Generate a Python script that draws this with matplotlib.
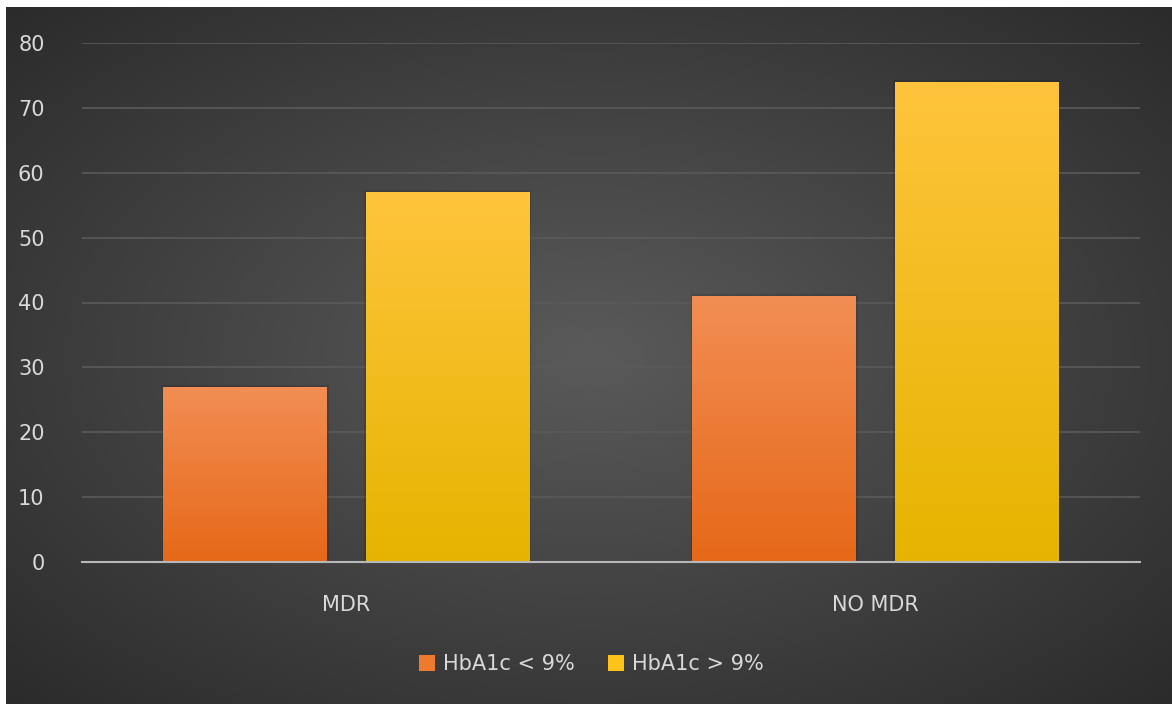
import numpy as np
import matplotlib.pyplot as plt
from matplotlib.patches import Patch
from matplotlib.colors import LinearSegmentedColormap

# datos
categorias = ['MDR', 'NO MDR']
serie_bajo = [27, 41]   # HbA1c < 9%
serie_alto = [57, 74]   # HbA1c > 9%
etiquetas = ['HbA1c < 9%', 'HbA1c > 9%']
yticks = [0, 10, 20, 30, 40, 50, 60, 70, 80]

plt.rcParams['font.family'] = ['DejaVu Sans']

W, H = 1172, 704
fig = plt.figure(figsize=(W / 100, H / 100), dpi=100)
fig.patch.set_facecolor('white')

# fondo gris con degradado radial
bg = fig.add_axes([6 / W, 0, 1 - 6 / W, 1 - 7 / H])
bg.set_axis_off()
yy, xx = np.mgrid[-1:1:300j, -1:1:500j]
r = np.sqrt(xx ** 2 + yy ** 2) / np.sqrt(2)
bg.imshow(r, cmap=LinearSegmentedColormap.from_list('bg', ['#5a5a5a', '#2b2b2b']),
          aspect='auto', extent=[0, 1, 0, 1], interpolation='bicubic')
bg.set_xlim(0, 1)
bg.set_ylim(0, 1)

ax = fig.add_axes([82 / W, 1 - 562 / H, (1140 - 82) / W, (562 - 43) / H])
ax.patch.set_alpha(0)

x = np.arange(len(categorias))
ancho = 0.31
sep = 0.036

def barras_degradado(pos, vals, c_arriba, c_abajo):
    bars = ax.bar(pos, vals, ancho, color='none', zorder=3)
    cmap = LinearSegmentedColormap.from_list('g', [c_abajo, c_arriba])
    grad = np.linspace(0, 1, 256).reshape(-1, 1)
    for b in bars:
        x0, w, h = b.get_x(), b.get_width(), b.get_height()
        # sombra suave arriba
        ax.bar(x0 + w / 2, h + 0.35, w + 0.004, color='black', alpha=0.12, zorder=2)
        im = ax.imshow(grad, cmap=cmap, aspect='auto', origin='lower',
                       extent=[x0, x0 + w, 0, h], zorder=3)
        im.set_clip_path(b)
    return bars

barras_degradado(x - sep - ancho / 2, serie_bajo, '#f28e54', '#e66818')
barras_degradado(x + sep + ancho / 2, serie_alto, '#ffc43c', '#e6b400')

ax.set_xlim(-0.5, 1.5)
ax.set_ylim(0, 80)
ax.set_yticks(yticks)
ax.set_xticks(x)
ax.set_xticklabels(categorias)
ax.grid(axis='y', color='#5a5a5a', linewidth=1.2, zorder=0)
ax.tick_params(axis='both', length=0, colors='#d9d9d9', labelsize=15)
ax.tick_params(axis='y', pad=27)
ax.tick_params(axis='x', pad=24)
for s in ['top', 'right', 'left']:
    ax.spines[s].set_visible(False)
ax.spines['bottom'].set_color('#b8b8b8')
ax.spines['bottom'].set_linewidth(1.5)
ax.spines['bottom'].set_zorder(4)

handles = [Patch(facecolor='#ee7a30'), Patch(facecolor='#fcc419')]
fig.legend(handles, etiquetas, loc='center', bbox_to_anchor=(591 / W, 1 - 664 / H),
           ncol=2, frameon=False, fontsize=15, labelcolor='#d9d9d9',
           handlelength=0.8, handleheight=0.8, handletextpad=0.35, columnspacing=1.6)

fig.savefig('out.png', dpi=100, facecolor=fig.get_facecolor())
